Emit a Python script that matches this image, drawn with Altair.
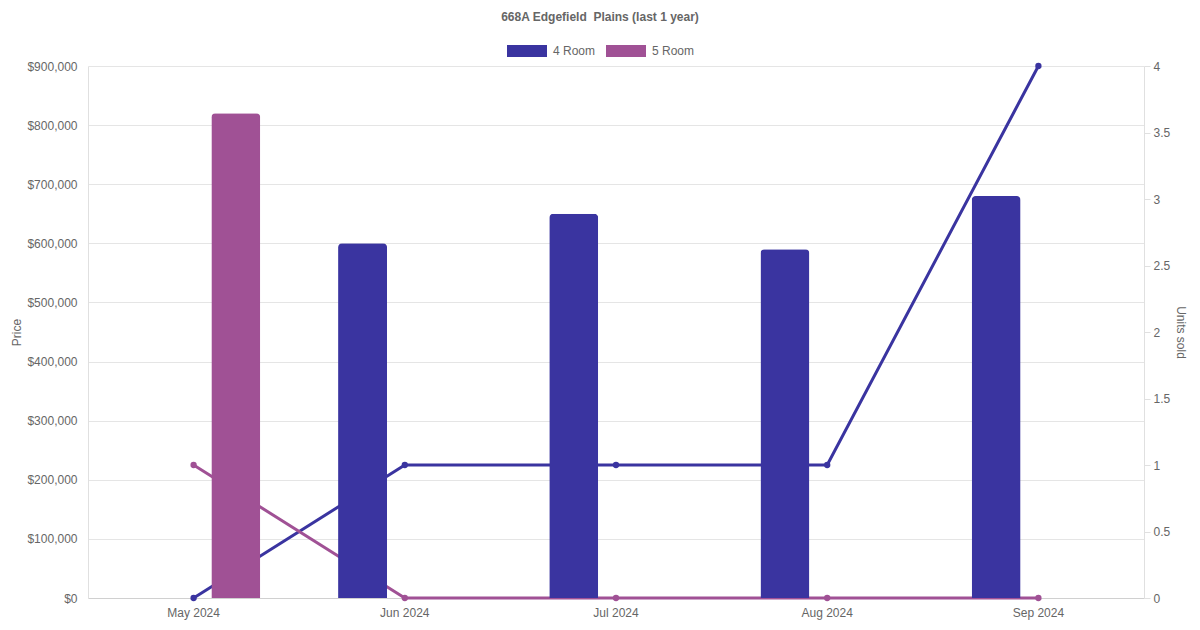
import altair as alt
import pandas as pd

months = ["May 2024", "Jun 2024", "Jul 2024", "Aug 2024", "Sep 2024"]
rooms = ["4 Room", "5 Room"]
colors = ["#3a34a0", "#a05195"]
price_4 = [None, 600000, 650000, 590000, 680000]
price_5 = [820000, None, None, None, None]
units_4 = [0, 1, 1, 1, 4]
units_5 = [1, 0, 0, 0, 0]

rows = []
for i, m in enumerate(months):
    rows.append({"month": m, "room": "4 Room", "price": price_4[i], "units": units_4[i]})
    rows.append({"month": m, "room": "5 Room", "price": price_5[i], "units": units_5[i]})
df = pd.DataFrame(rows)

FONT = "Liberation Sans"
GREY = "#666666"
H = 532

xenc = alt.X(
    "month:N",
    sort=months,
    scale=alt.Scale(domain=months, paddingInner=0, paddingOuter=0),
    axis=alt.Axis(title=None, labelAngle=0, ticks=False, labelPadding=9,
                  domainColor="#d0d0d0", labelColor=GREY, labelFontSize=12,
                  grid=False),
)

color = alt.Color(
    "room:N",
    scale=alt.Scale(domain=rooms, range=colors),
    legend=alt.Legend(
        title=None, orient="none", legendX=419, legendY=-35,
        direction="horizontal", symbolType="M-1,-0.3H1V0.3H-1Z",
        symbolSize=1600, symbolStrokeWidth=0, symbolOpacity=1,
        labelFontSize=12, labelColor=GREY, labelOffset=6,
        columnPadding=10, padding=0,
    ),
)

lines = alt.Chart(df).mark_line(
    strokeWidth=3, point=alt.OverlayMarkDef(size=40, filled=True)
).encode(
    x=xenc,
    y=alt.Y("units:Q",
            scale=alt.Scale(domain=[0, 4], nice=False),
            axis=alt.Axis(orient="right", title="Units sold", values=[0, 0.5, 1, 1.5, 2, 2.5, 3, 3.5, 4],
                          format=".1~f", grid=False, tickColor="#e0e0e0", tickSize=6,
                          domainColor="#e0e0e0", labelColor=GREY, labelFontSize=12,
                          labelPadding=3, titleAngle=90, titleX=36, titleY=H / 2,
                          titleAlign="center", titleBaseline="middle",
                          titleFontWeight="normal", titleColor=GREY, titleFontSize=12)),
    color=color,
    detail="room:N",
)

bars = alt.Chart(df).transform_filter("datum.price != null").mark_bar(
    cornerRadiusTopLeft=4, cornerRadiusTopRight=4
).encode(
    x=xenc,
    xOffset=alt.XOffset("room:N", scale=alt.Scale(domain=rooms, paddingInner=0.42, paddingOuter=0.46)),
    y=alt.Y("price:Q",
            scale=alt.Scale(domain=[0, 900000], nice=False),
            axis=alt.Axis(orient="left", title="Price", values=list(range(0, 900001, 100000)),
                          format="$,.0f", grid=True, gridColor="#e5e5e5", ticks=False,
                          domainColor="#e0e0e0", labelColor=GREY, labelFontSize=12,
                          labelPadding=11, titleAngle=-90, titleX=-72, titleY=H / 2,
                          titleAlign="center", titleBaseline="middle",
                          titleFontWeight="normal", titleColor=GREY, titleFontSize=12)),
    color=color,
)

chart = alt.layer(lines, bars).resolve_scale(y="independent").properties(
    width=1056,
    height=H,
    padding={"left": 80, "top": 58, "right": 44, "bottom": 22},
    autosize=alt.AutoSizeParams(type="none"),
    title=alt.TitleParams(
        "668A Edgefield\u00a0 Plains (last 1 year)", anchor="middle", frame="group",
        dx=-16, offset=7, fontSize=12, fontWeight="bold", color=GREY, font=FONT,
    ),
).configure(font=FONT).configure_view(stroke=None)

chart.save("out.html", embed_options={"renderer": "svg", "actions": False})
